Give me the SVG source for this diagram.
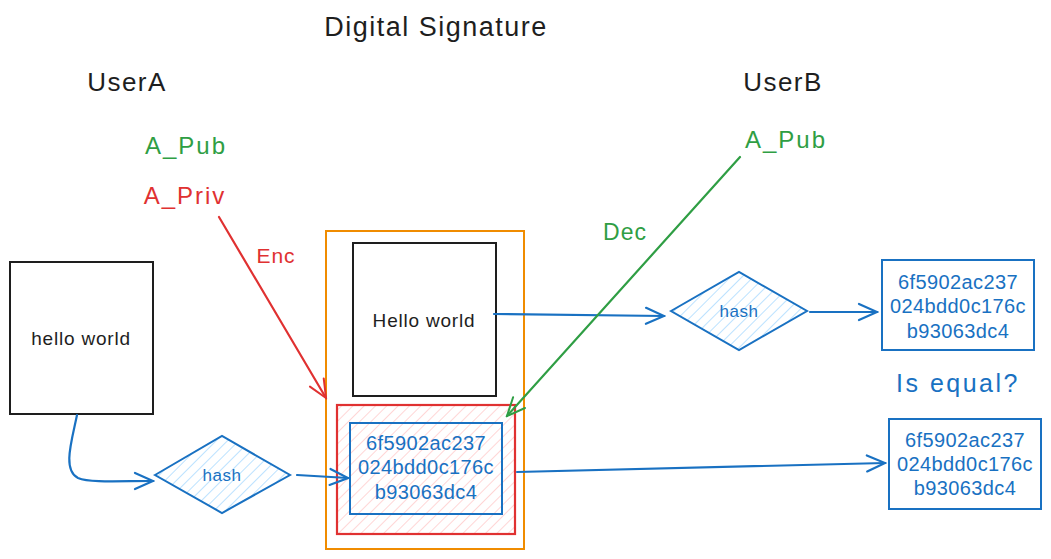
<svg xmlns="http://www.w3.org/2000/svg" width="1051" height="559" viewBox="0 0 1051 559">
<defs>
<style>
text{font-family:"Liberation Sans","DejaVu Sans",sans-serif;text-anchor:middle;dominant-baseline:central}
.blk{fill:#1e1e1e}.grn{fill:#2f9e44}.red{fill:#e03131}.blu{fill:#1971c2}
.hex{font-size:20px;letter-spacing:0.4px}
.box{fill:#fff;stroke:#1e1e1e;stroke-width:2}
.bbox{fill:none;stroke:#1971c2;stroke-width:2}
.conn{fill:none;stroke-width:2.2;stroke-linecap:round}
</style>
<pattern id="hb" patternUnits="userSpaceOnUse" width="8" height="8" patternTransform="rotate(45)">
<line x1="0" y1="0" x2="0" y2="8" stroke="#a5d8ff" stroke-width="1.5"/>
</pattern>
<pattern id="hr" patternUnits="userSpaceOnUse" width="8" height="8" patternTransform="rotate(45)">
<line x1="0" y1="0" x2="0" y2="8" stroke="#ffc9c9" stroke-width="1.5"/>
</pattern>
<marker id="ab" viewBox="-20 -10 22 20" refX="0" refY="0" markerWidth="22" markerHeight="20" markerUnits="userSpaceOnUse" orient="auto">
<path d="M-18,-8 L0,0 L-18,8" fill="none" stroke="#1971c2" stroke-width="2.2" stroke-linecap="round"/>
</marker>
<marker id="ar" viewBox="-20 -10 22 20" refX="0" refY="0" markerWidth="22" markerHeight="20" markerUnits="userSpaceOnUse" orient="auto">
<path d="M-18,-8 L0,0 L-18,8" fill="none" stroke="#e03131" stroke-width="2" stroke-linecap="round"/>
</marker>
<marker id="ag" viewBox="-20 -10 22 20" refX="0" refY="0" markerWidth="22" markerHeight="20" markerUnits="userSpaceOnUse" orient="auto">
<path d="M-18,-8 L0,0 L-18,8" fill="none" stroke="#2f9e44" stroke-width="2" stroke-linecap="round"/>
</marker>
</defs>
<rect width="1051" height="559" fill="#fff"/>

<g id="labels">
<text x="436" y="27" font-size="27" letter-spacing="1.5" class="blk">Digital Signature</text>
<text x="127" y="82" font-size="26" letter-spacing="1.5" class="blk">UserA</text>
<text x="186" y="145" font-size="24" letter-spacing="2" class="grn">A_Pub</text>
<text x="185" y="195" font-size="24" letter-spacing="2" class="red">A_Priv</text>
<text x="783" y="82" font-size="26" letter-spacing="1.5" class="blk">UserB</text>
<text x="786" y="139" font-size="24" letter-spacing="2" class="grn">A_Pub</text>
<text x="625" y="232" font-size="23" letter-spacing="1" class="grn">Dec</text>
<text x="276" y="255" font-size="21" letter-spacing="1" class="red">Enc</text>
<text x="958" y="383" font-size="25" letter-spacing="2.5" class="blu">Is equal?</text>
</g>

<g id="signed-container">
<rect x="326" y="231" width="198" height="318" fill="none" stroke="#f08c00" stroke-width="2"/>
</g>

<g id="hello-world-a">
<rect class="box" x="10" y="262" width="143" height="152"/>
<text x="81" y="338" font-size="19" letter-spacing="0.8" class="blk">hello world</text>
</g>

<g id="hello-world-b">
<rect class="box" x="353" y="243" width="143" height="153"/>
<text x="424" y="320" font-size="19" letter-spacing="0.8" class="blk">Hello world</text>
</g>

<g id="signature">
<rect x="337" y="405" width="178" height="129" fill="url(#hr)" stroke="#e03131" stroke-width="2.2"/>
<rect class="bbox" x="350" y="423" width="152" height="91"/>
<text x="426" y="443" class="hex blu">6f5902ac237</text>
<text x="426" y="467" class="hex blu">024bdd0c176c</text>
<text x="426" y="492" class="hex blu">b93063dc4</text>
</g>

<g id="hash-a">
<polygon points="155,475 222,436 290,475 222,513" fill="url(#hb)" stroke="#1971c2" stroke-width="2"/>
<text x="222" y="475" font-size="17" letter-spacing="0.5" class="blu">hash</text>
</g>

<g id="hash-b">
<polygon points="671,311 739,272 807,311 739,350" fill="url(#hb)" stroke="#1971c2" stroke-width="2"/>
<text x="739" y="311" font-size="17" letter-spacing="0.5" class="blu">hash</text>
</g>

<g id="digest-b">
<rect class="bbox" x="882" y="260" width="152" height="90"/>
<text x="958" y="282" class="hex blu">6f5902ac237</text>
<text x="958" y="306" class="hex blu">024bdd0c176c</text>
<text x="958" y="331" class="hex blu">b93063dc4</text>
</g>

<g id="digest-a">
<rect class="bbox" x="889" y="419" width="152" height="90"/>
<text x="965" y="440" class="hex blu">6f5902ac237</text>
<text x="965" y="464" class="hex blu">024bdd0c176c</text>
<text x="965" y="488" class="hex blu">b93063dc4</text>
</g>

<g id="connectors">
<path class="conn" stroke="#1971c2" stroke-width="2.8" d="M77,415 C72,440 62,470 78,478 C90,483 120,481 153,481" marker-end="url(#ab)"/>
<path class="conn" stroke="#1971c2" stroke-width="2.8" d="M297,475 L348,478" marker-end="url(#ab)"/>
<path class="conn" stroke="#1971c2" stroke-width="2.8" d="M494,314 L664,316" marker-end="url(#ab)"/>
<path class="conn" stroke="#1971c2" d="M810,312 L877,312" marker-end="url(#ab)"/>
<path class="conn" stroke="#1971c2" d="M517,472 L885,463" marker-end="url(#ab)"/>
<path class="conn" stroke="#e03131" d="M219,217 L326,398" marker-end="url(#ar)"/>
<path class="conn" stroke="#2f9e44" stroke-width="1.6" d="M740,157 L507,416" marker-end="url(#ag)"/>
</g>
</svg>
